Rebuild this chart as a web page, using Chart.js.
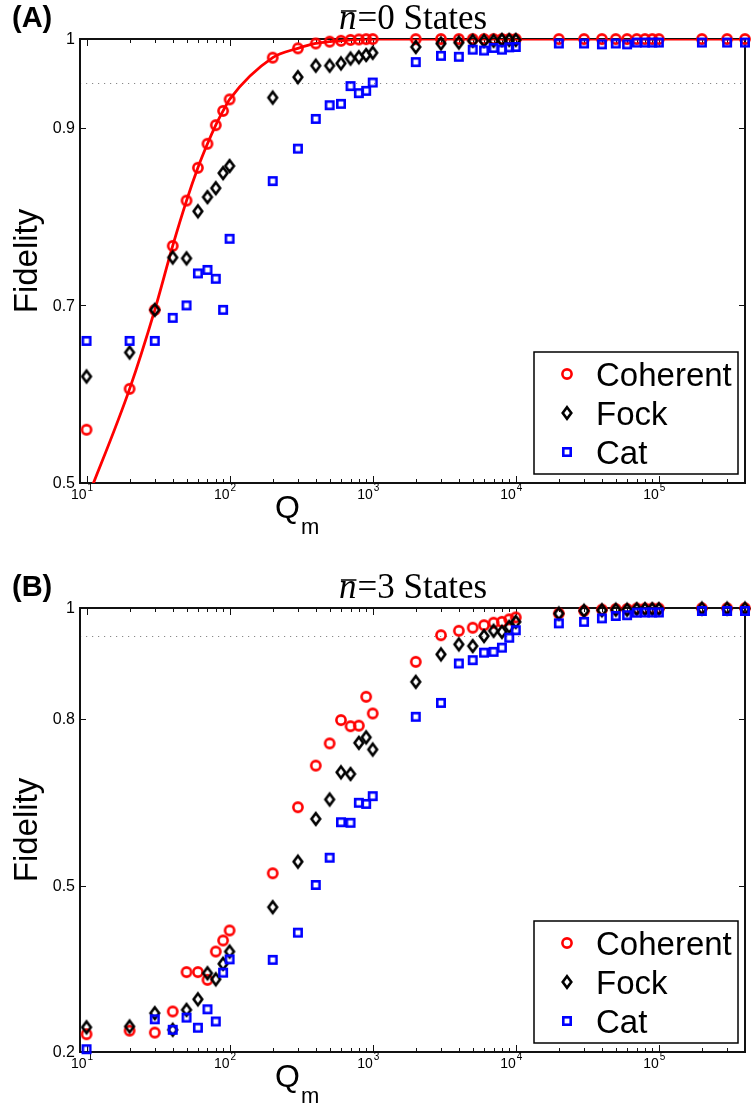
<!DOCTYPE html>
<html>
<head>
<meta charset="utf-8">
<script src="https://cdn.jsdelivr.net/npm/chart.js@4.4.0/dist/chart.umd.min.js"></script>
<style>
    body { margin: 0; background: #fff; width: 751px; height: 1112px; position: relative; overflow: hidden; }
    canvas { position: absolute; left: 0; }
    #panelA { top: 0; }
    #panelB { top: 569px; }
</style>
</head>
<body>
<canvas id="panelA" width="751" height="543"></canvas>
<canvas id="panelB" width="751" height="543"></canvas>
<script>
// mechanical quality factor values shared by every series
const qValues = [10, 20, 30, 40, 50, 60, 70, 80, 90, 100,
    200, 300, 400, 500, 600, 700, 800, 900, 1000,
    2000, 3000, 4000, 5000, 6000, 7000, 8000, 9000, 10000,
    20000, 30000, 40000, 50000, 60000, 70000, 80000, 90000, 100000,
    200000, 300000, 400000];

// n = 0
const coherentA = [0.560, 0.606, 0.695, 0.767, 0.818, 0.855, 0.882, 0.903, 0.919, 0.932,
    0.979, 0.9895, 0.995, 0.997, 0.998, 0.999, 0.9995, 0.9998, 0.9999,
    0.9998, 0.9999, 0.9999, 0.9999, 0.9999, 0.9999, 0.9999, 0.9999, 0.9999,
    0.9999, 0.9999, 0.9999, 0.9999, 0.9999, 0.9999, 0.9999, 0.9999, 0.9999,
    0.9999, 0.9999, 0.9999];
const fockA = [0.620, 0.647, 0.695, 0.754, 0.753, 0.806, 0.822, 0.832, 0.849, 0.857,
    0.934, 0.957, 0.970, 0.970, 0.9725, 0.978, 0.9795, 0.982, 0.9845,
    0.991, 0.995, 0.996, 0.998, 0.998, 0.998, 0.999, 0.999, 0.999,
    null, null, null, null, null, null, null, null, null,
    null, null, null];
const catA = [0.660, 0.660, 0.660, 0.686, 0.700, 0.736, 0.740, 0.730, 0.695, 0.775,
    0.840, 0.8765, 0.910, 0.9254, 0.927, 0.947, 0.939, 0.9416, 0.951,
    0.974, 0.981, 0.980, 0.988, 0.987, 0.990, 0.988, 0.9906, 0.991,
    0.995, 0.995, 0.994, 0.995, 0.994, 0.996, 0.996, 0.996, 0.996,
    0.996, 0.996, 0.996];
const theoryA = [0.48, 0.606, 0.695, 0.767, 0.818, 0.855, 0.882, 0.903, 0.919, 0.932,
    0.979, 0.9895, 0.995, 0.997, 0.998, 0.999, 0.9995, 0.9998, 0.9999,
    1, 1, 1, 1, 1, 1, 1, 1, 1,
    1, 1, 1, 1, 1, 1, 1, 1, 1,
    1, 1, 1];

// n = 3
const coherentB = [0.232, 0.2385, 0.235, 0.273, 0.344, 0.344, 0.330, 0.381, 0.401, 0.419,
    0.522, 0.641, 0.716, 0.756, 0.798, 0.787, 0.788, 0.840, 0.810,
    0.903, 0.951, 0.959, 0.9645, 0.969, 0.9735, 0.975, 0.9796, 0.983,
    0.990, 0.995, 0.997, 0.998, 0.998, 0.999, 0.999, 0.999, 0.999,
    0.9995, 0.9995, 0.9995];
const fockB = [0.2445, 0.246, 0.270, 0.240, 0.276, 0.295, 0.342, 0.331, 0.359, 0.381,
    0.461, 0.543, 0.620, 0.655, 0.704, 0.701, 0.757, 0.767, 0.745,
    0.867, 0.9165, 0.9345, 0.9315, 0.9495, 0.959, 0.957, 0.966, 0.975,
    0.990, 0.995, 0.996, 0.997, 0.997, 0.998, 0.998, 0.998, 0.998,
    0.999, 0.999, 0.999];
const catB = [0.205, null, 0.259, 0.240, 0.262, 0.2438, 0.277, 0.255, 0.343, 0.367,
    0.366, 0.415, 0.501, 0.550, 0.614, 0.613, 0.649, 0.647, 0.661,
    0.804, 0.829, 0.900, 0.906, 0.9195, 0.921, 0.9285, 0.9465, 0.960,
    0.9724, 0.975, 0.9814, 0.9856, 0.987, 0.9916, 0.992, 0.992, 0.992,
    0.9946, 0.9946, 0.9946];

const seriesNames = ['Coherent', 'Fock', 'Cat'];
const xDecades = [10, 100, 1000, 10000, 100000];
const yTicksA = [0.5, 0.7, 0.9, 1];
const yTicksB = [0.2, 0.5, 0.8, 1];
const threshold = 0.95;

const SANS = '"Liberation Sans", Arial, sans-serif';
const SERIF = '"Liberation Serif", "Times New Roman", serif';

// hollow markers drawn once into small canvases
function makeMarker(kind) {
    const c = document.createElement('canvas');
    c.width = 20;
    c.height = 22;
    const g = c.getContext('2d');
    g.lineWidth = 2.6;
    if (kind === 'circle') {
        g.strokeStyle = '#ff0000';
        g.beginPath();
        g.arc(10, 11, 4.6, 0, Math.PI * 2);
        g.stroke();
    } else if (kind === 'diamond') {
        g.strokeStyle = '#000000';
        g.lineJoin = 'miter';
        g.beginPath();
        g.moveTo(10, 5.2);
        g.lineTo(14.3, 11);
        g.lineTo(10, 16.8);
        g.lineTo(5.7, 11);
        g.closePath();
        g.stroke();
    } else {
        g.strokeStyle = '#0000ff';
        g.strokeRect(6.3, 7.3, 7.4, 7.4);
    }
    return c;
}
const markers = [makeMarker('circle'), makeMarker('diamond'), makeMarker('square')];

function points(values) {
    return qValues.map((q, i) => ({ x: q, y: values[i] }));
}

const panelDecor = {
    id: 'panelDecor',
    beforeDatasetsDraw(chart, args, opts) {
        const { ctx, chartArea: a, scales: { x, y } } = chart;
        ctx.save();

        // dotted 0.95 level
        const yr = Math.round(y.getPixelForValue(threshold)) + 0.5;
        ctx.strokeStyle = '#888';
        ctx.lineWidth = 1;
        ctx.setLineDash([1.2, 4.8]);
        ctx.beginPath();
        ctx.moveTo(a.left, yr);
        ctx.lineTo(a.right, yr);
        ctx.stroke();
        ctx.setLineDash([]);

        // box
        ctx.strokeStyle = '#111';
        ctx.lineWidth = 2;
        ctx.strokeRect(a.left, a.top, a.right - a.left, a.bottom - a.top);

        // log ticks on bottom and top, pointing inwards
        ctx.lineWidth = 1;
        ctx.beginPath();
        xDecades.forEach(d => {
            for (let m = 1; m <= 9; m++) {
                const v = d * m;
                if (v <= x.min || v >= x.max) continue;
                const px = Math.round(x.getPixelForValue(v)) + 0.5;
                const len = m === 1 ? 7 : 4;
                ctx.moveTo(px, a.bottom);
                ctx.lineTo(px, a.bottom - len);
                ctx.moveTo(px, a.top);
                ctx.lineTo(px, a.top + len);
            }
        });
        opts.yTicks.forEach(v => {
            const py = Math.round(y.getPixelForValue(v)) + 0.5;
            ctx.moveTo(a.left, py);
            ctx.lineTo(a.left + 6, py);
            ctx.moveTo(a.right, py);
            ctx.lineTo(a.right - 6, py);
        });
        ctx.stroke();

        // tick labels
        ctx.fillStyle = '#000';
        ctx.font = '16px ' + SANS;
        ctx.textAlign = 'right';
        ctx.textBaseline = 'middle';
        opts.yTicks.forEach(v => {
            ctx.fillText(String(v), a.left - 5, y.getPixelForValue(v) + 1);
        });
        ctx.textBaseline = 'alphabetic';
        xDecades.forEach(d => {
            const px = x.getPixelForValue(d);
            ctx.font = '14px ' + SANS;
            ctx.textAlign = 'right';
            ctx.fillText('10', px, a.bottom + 16);
            ctx.font = '10px ' + SANS;
            ctx.textAlign = 'left';
            ctx.fillText(String(Math.round(Math.log10(d))), px + 1, a.bottom + 8);
        });

        // axis titles
        ctx.font = '33px ' + SANS;
        ctx.textAlign = 'center';
        ctx.save();
        ctx.translate(37, (a.top + a.bottom) / 2);
        ctx.rotate(-Math.PI / 2);
        ctx.fillText('Fidelity', 0, 0);
        ctx.restore();
        ctx.textAlign = 'left';
        ctx.font = '32px ' + SANS;
        ctx.fillText('Q', 275, a.bottom + 35);
        ctx.font = '22px ' + SANS;
        ctx.fillText('m', 301, a.bottom + 51);

        // panel letter
        ctx.font = 'bold 29px ' + SANS;
        ctx.fillText(opts.letter, 12, 27);

        // title: n-bar = value States
        const base = 29;
        const size = 35;
        ctx.font = 'italic ' + size + 'px ' + SERIF;
        const wN = ctx.measureText('n').width;
        ctx.font = size + 'px ' + SERIF;
        const rest = '=' + opts.nbar + ' States';
        const wR = ctx.measureText(rest).width;
        const x0 = (a.left + a.right) / 2 - (wN + wR) / 2;
        ctx.font = 'italic ' + size + 'px ' + SERIF;
        ctx.fillText('n', x0, base);
        ctx.font = size + 'px ' + SERIF;
        ctx.fillText(rest, x0 + wN + 1, base);
        ctx.lineWidth = 1.5;
        ctx.strokeStyle = '#000';
        ctx.beginPath();
        ctx.moveTo(x0 + 2, base - 18);
        ctx.lineTo(x0 + wN, base - 18);
        ctx.stroke();

        ctx.restore();
    },
    afterDatasetsDraw(chart) {
        const { ctx, chartArea: a } = chart;
        const left = a.right - 211, top = a.bottom - 131;
        ctx.save();
        ctx.fillStyle = '#fff';
        ctx.fillRect(left, top, 204, 122);
        ctx.strokeStyle = '#000';
        ctx.lineWidth = 1.5;
        ctx.strokeRect(left, top, 204, 122);
        ctx.fillStyle = '#000';
        ctx.font = '33px ' + SANS;
        ctx.textAlign = 'left';
        ctx.textBaseline = 'alphabetic';
        seriesNames.forEach((name, i) => {
            const cy = top + 22 + i * 39;
            const m = markers[i];
            ctx.drawImage(m, left + 33 - m.width / 2, cy - m.height / 2);
            ctx.fillText(name, left + 62, cy + 12);
        });
        ctx.restore();
    }
};

function scatterSet(label, values, marker, order) {
    return {
        type: 'scatter',
        label: label,
        data: points(values),
        pointStyle: marker,
        pointRadius: 5,
        pointHoverRadius: 5,
        showLine: false,
        clip: false,
        order: order
    };
}

function buildPanel(canvasId, sets, yTicks, letter, nbar) {
    const datasets = [
        scatterSet(seriesNames[2], sets.cat, markers[2], 0),
        scatterSet(seriesNames[1], sets.fock, markers[1], 1),
        scatterSet(seriesNames[0], sets.coherent, markers[0], 2)
    ];
    if (sets.theory) {
        datasets.push({
            type: 'line',
            label: 'theory',
            data: points(sets.theory),
            borderColor: '#ff0000',
            borderWidth: 2.8,
            pointRadius: 0,
            fill: false,
            cubicInterpolationMode: 'monotone',
            clip: 0,
            order: 3
        });
    }
    return new Chart(document.getElementById(canvasId).getContext('2d'), {
        type: 'scatter',
        data: { datasets: datasets },
        options: {
            responsive: false,
            animation: false,
            events: [],
            layout: { padding: { left: 80, top: 39, right: 5, bottom: 60 } },
            scales: {
                x: { type: 'logarithmic', min: 9, max: 400000, display: false },
                y: { type: 'linear', min: yTicks[0], max: 1, display: false }
            },
            plugins: {
                legend: { display: false },
                tooltip: { enabled: false },
                panelDecor: { yTicks: yTicks, letter: letter, nbar: nbar }
            }
        },
        plugins: [panelDecor]
    });
}

buildPanel('panelA', { coherent: coherentA, fock: fockA, cat: catA, theory: theoryA }, yTicksA, '(A)', 0);
buildPanel('panelB', { coherent: coherentB, fock: fockB, cat: catB }, yTicksB, '(B)', 3);
</script>
</body>
</html>
